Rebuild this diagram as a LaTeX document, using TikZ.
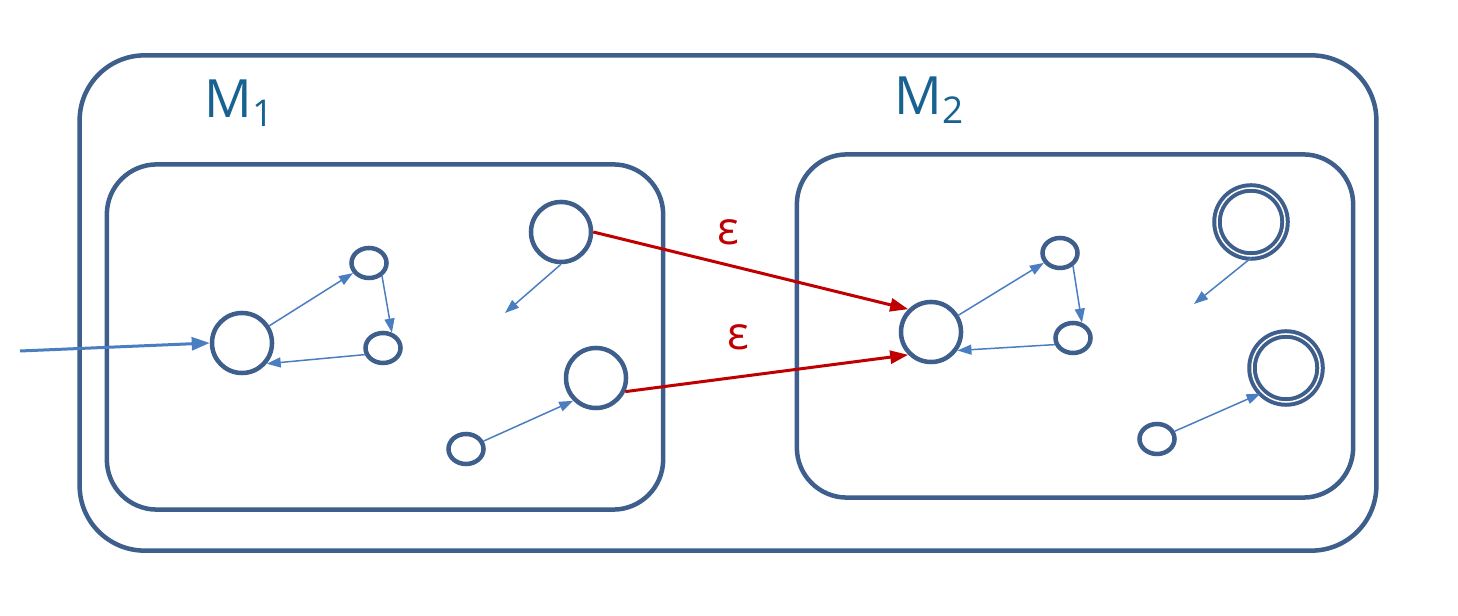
\documentclass[tikz,border=0pt]{standalone}
\usepackage{fontspec}
\newfontfamily\labelfont{Open Sans}
\usetikzlibrary{arrows.meta,positioning,shapes.geometric}
\definecolor{stateblue}{RGB}{62,94,140}
\definecolor{edgeblue}{RGB}{74,126,193}
\definecolor{epsred}{RGB}{192,0,0}
\definecolor{labelblue}{RGB}{24,98,145}

\begin{document}
\begin{tikzpicture}[
    x=0.01cm, y=-0.01cm,
    machine/.style={draw=stateblue, line width=0.045cm, rounded corners=0.5cm, minimum width=5.56cm, minimum height=3.45cm},
    state/.style={circle, draw=stateblue, line width=0.045cm, minimum size=0.6cm, inner sep=0pt},
    small/.style={ellipse, draw=stateblue, line width=0.045cm, minimum width=0.35cm, minimum height=0.3cm, inner sep=0pt},
    accept/.style={state, line width=0.04cm, double=white, double distance=0.015cm, minimum size=0.68cm},
    arr/.style={-{Triangle[length=0.14cm, width=0.1cm]}, edgeblue, line width=0.015cm},
    eps/.style={-{Triangle[length=0.18cm, width=0.13cm]}, epsred, line width=0.03cm},
    lbl/.style={font=\labelfont\fontsize{15}{17}\selectfont, text=labelblue},
    epslbl/.style={font=\labelfont\fontsize{13}{15}\selectfont, text=epsred}
]
\useasboundingbox (0,0) rectangle (1458,616);

% machines
\node[machine, rounded corners=0.65cm, minimum width=12.96cm, minimum height=4.95cm] (whole) at (728,303) {};
\node[machine] (mone) at (385,337) {};
\node[machine, minimum height=3.43cm] (mtwo) at (1075,326) {};
\node[lbl] (monelbl) at (240,103) {M\textsubscript{1}};
\node[lbl] (mtwolbl) at (930,100) {M\textsubscript{2}};

% states of M1
\node[state] (q0) at (242,343) {};
\node[small] (q1) at (369,263) {};
\node[small] (q2) at (383,348) {};
\node[state] (q3) at (561,232) {};
\node[state] (q4) at (596,378) {};
\node[small] (q5) at (466,449) {};
\coordinate (qout) at (505,313);
\coordinate (start) at (20,351);

% states of M2
\node[state] (p0) at (931,332) {};
\node[small] (p1) at (1060,253) {};
\node[small] (p2) at (1073,338) {};
\node[accept] (f1) at (1251,222) {};
\node[accept] (f2) at (1286,368) {};
\node[small] (p3) at (1157,439) {};
\coordinate (pout) at (1194,304);

% M1 transitions
\draw[arr, line width=0.03cm, -{Triangle[length=0.18cm, width=0.13cm]}] (start) -- (q0.west);
\draw[arr] (q0) -- (q1);
\draw[arr] (q1.-45) -- (q2.60);
\draw[arr] (q2.200) -- (q0.-40);
\draw[arr] (q3.south) -- (qout);
\draw[arr] (q5) -- (q4.south west);

% M2 transitions
\draw[arr] (p0) -- (p1);
\draw[arr] (p1.-45) -- (p2.60);
\draw[arr] (p2.200) -- (p0.-35);
\draw[arr] (f1.south) -- (pout);
\draw[arr] (p3) -- (f2.south west);

% epsilon moves
\draw[eps] (q3.east) -- node[epslbl, pos=0.43, above=2pt] {ε} (p0.north west);
\draw[eps] (q4.-25) -- node[epslbl, pos=0.4, above=4pt] {ε} (p0.south west);
\end{tikzpicture}
\end{document}
